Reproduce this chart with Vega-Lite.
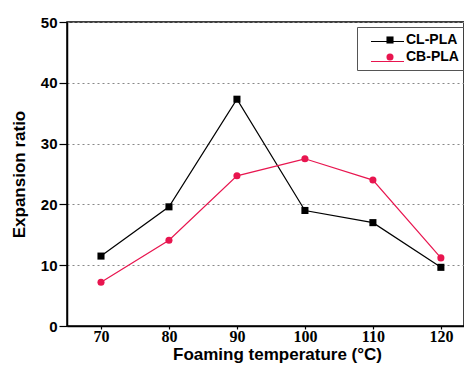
{
  "$schema": "https://vega.github.io/schema/vega-lite/v6.json",
  "autosize": "none",
  "padding": {"left": 67, "top": 22, "right": 0, "bottom": 46},
  "width": 397,
  "height": 304,
  "background": "white",
  "config": {"view": {"stroke": "black", "strokeWidth": 1.5}},
  "data": {"values": [
    {"t": 70, "r": 11.5, "s": "CL-PLA"},
    {"t": 80, "r": 19.6, "s": "CL-PLA"},
    {"t": 90, "r": 37.3, "s": "CL-PLA"},
    {"t": 100, "r": 19.0, "s": "CL-PLA"},
    {"t": 110, "r": 17.0, "s": "CL-PLA"},
    {"t": 120, "r": 9.65, "s": "CL-PLA"},
    {"t": 70, "r": 7.2, "s": "CB-PLA"},
    {"t": 80, "r": 14.1, "s": "CB-PLA"},
    {"t": 90, "r": 24.7, "s": "CB-PLA"},
    {"t": 100, "r": 27.5, "s": "CB-PLA"},
    {"t": 110, "r": 24.0, "s": "CB-PLA"},
    {"t": 120, "r": 11.2, "s": "CB-PLA"}
  ]},
  "encoding": {
    "x": {"field": "t", "type": "quantitative",
      "scale": {"domain": [65, 123.4], "nice": false, "zero": false},
      "axis": {"values": [70, 80, 90, 100, 110, 120], "title": "Foaming temperature (°C)",
        "grid": false, "domainColor": "black", "domainWidth": 1.5, "tickColor": "black", "tickSize": 3, "tickWidth": 1.2,
        "labelFont": "Liberation Serif", "labelFontWeight": "bold", "labelFontSize": 16, "labelColor": "black", "labelPadding": -1,
        "titleFont": "Liberation Sans", "titleFontWeight": "bold", "titleFontSize": 17, "titleColor": "black", "titlePadding": 2, "titleX": 210}},
    "y": {"field": "r", "type": "quantitative",
      "scale": {"domain": [0, 50], "nice": false},
      "axis": {"values": [0, 10, 20, 30, 40, 50], "title": "Expansion ratio",
        "grid": true, "gridColor": "#888", "gridDash": [2, 3], "gridWidth": 1,
        "domainColor": "black", "domainWidth": 1.5, "tickColor": "black", "tickSize": 8, "tickWidth": 1.2,
        "labelFont": "Liberation Sans", "labelFontWeight": "bold", "labelFontSize": 15, "labelColor": "black", "labelPadding": 2,
        "titleFont": "Liberation Sans", "titleFontWeight": "bold", "titleFontSize": 17, "titleColor": "black", "titlePadding": 12}}
  },
  "layer": [
    {"mark": {"type": "line", "strokeWidth": 1.2},
      "encoding": {
        "color": {"field": "s", "type": "nominal",
          "scale": {"domain": ["CL-PLA", "CB-PLA"], "range": ["#000000", "#e8154f"]},
          "legend": {"title": null, "orient": "none", "legendX": 297, "legendY": -4,
            "padding": 6,
            "labelFont": "Liberation Sans", "labelFontSize": 1, "labelOpacity": 0, "labelOffset": 1,
            "symbolSize": 1089, "symbolStrokeWidth": 1.2, "rowPadding": -7, "symbolType": "stroke"}}}},
    {"mark": {"type": "point", "filled": true, "size": 50, "opacity": 1},
      "encoding": {
        "color": {"field": "s", "type": "nominal",
          "scale": {"domain": ["CL-PLA", "CB-PLA"], "range": ["#000000", "#e8154f"]},
          "legend": {"title": null, "orient": "none", "legendX": 290, "legendY": 5,
            "strokeColor": "#555", "padding": 6,
            "labelFont": "Liberation Sans", "labelFontWeight": "bold", "labelFontSize": 14, "labelColor": "black",
            "symbolSize": 50, "symbolOffset": 20, "labelOffset": 9, "rowPadding": 3}},
        "shape": {"field": "s", "type": "nominal",
          "scale": {"domain": ["CL-PLA", "CB-PLA"], "range": ["square", "circle"]},
          "legend": {"title": null, "orient": "none", "legendX": 290, "legendY": 5,
            "strokeColor": "#555", "padding": 6,
            "labelFont": "Liberation Sans", "labelFontWeight": "bold", "labelFontSize": 14, "labelColor": "black",
            "symbolSize": 50, "symbolOffset": 20, "labelOffset": 9, "rowPadding": 3}}}}
  ],
  "resolve": {"scale": {"color": "independent", "shape": "independent"}, "legend": {"color": "independent", "shape": "independent"}}
}
